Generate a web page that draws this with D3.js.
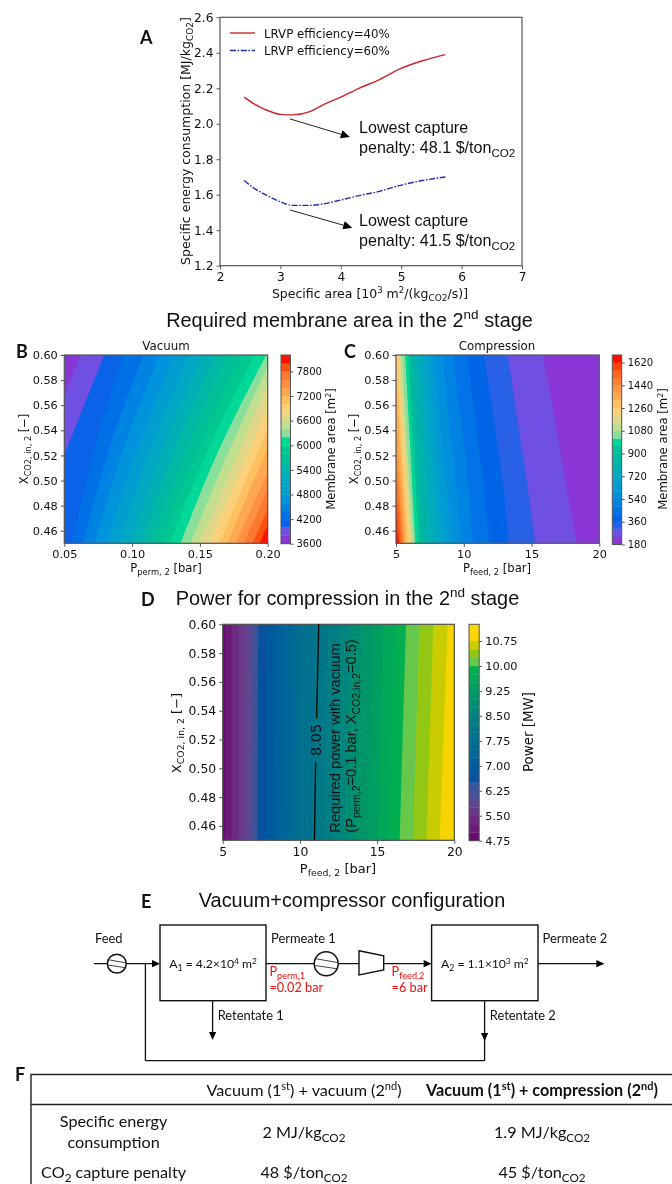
<!DOCTYPE html>
<html><head><meta charset="utf-8">
<script src="https://cdn.jsdelivr.net/npm/d3@7/dist/d3.min.js"></script>
<style>
html,body{margin:0;padding:0;background:#fff}
svg{display:block;filter:blur(0.4px)}
text{fill:#111}
</style></head><body><svg id="c" width="672" height="1184"></svg>
<script>
// ---------- Panel A ----------
const aXTicks=[2,3,4,5,6,7];
const aYTicks=[1.2,1.4,1.6,1.8,2.0,2.2,2.4,2.6];
const areaX=[2.4,2.55,2.75,3.0,3.2,3.5,3.7,4.0,4.3,4.65,4.95,5.35,5.73];
const energy40=[2.15,2.115,2.08,2.053,2.05,2.07,2.105,2.15,2.2,2.25,2.305,2.355,2.39];
const energy60=[1.68,1.64,1.6,1.56,1.54,1.54,1.548,1.57,1.595,1.62,1.65,1.68,1.7];
const aArrows=[[3.16,2.027,4.15,1.926],[3.16,1.514,4.19,1.414]];
// ---------- Panel B ----------
const xFracTicks=[0.46,0.48,0.50,0.52,0.54,0.56,0.58,0.60];
const bXTicks=[0.05,0.10,0.15,0.20];
const bRows=[0.45,0.525,0.6];
const bLevels=[3600,3800,4000,4200,4400,4600,4800,5000,5200,5400,5600,5800,6000,6200,6400,6600,6800,7000,7200,7400,7600,7800,8000];
const bTicks=[3600,4200,4800,5400,6000,6600,7200,7800];
const bColors=["#8a35d6","#7050e2","#0a62e8","#0070e6","#0084e4","#0094dc","#009fd0","#00a8c4","#00b0b4","#00b8a4","#00c098","#00c890","#00d898","#8ae09a","#c0e090","#e0d888","#fad078","#ffc060","#ffa850","#ff9040","#ff7830","#ff5010","#ff1000"];
const bBounds=[[.0100,.0345,.0620],[.0247,.0517,.0795],[.0559,.0721,.0935],[.0640,.0831,.1082],[.0726,.0935,.1205],[.0817,.1038,.1315],[.0905,.1136,.1426],[.0989,.1224,.1519],[.1070,.1315,.1610],[.1143,.1401,.1696],[.1212,.1487,.1806],[.1278,.1561,.1904],[.1357,.1642,.1990],[.1430,.1720,.2039],[.1499,.1794,.2088],[.1573,.1867,.2167],[.1642,.1936,.2231],[.1703,.1995,.2309],[.1764,.2076,.2383],[.1823,.2135,.2457],[.1887,.2201,.2530],[.1941,.2255,.2579]];
// ---------- Panel C ----------
const cXTicks=[5,10,15,20];
const cRows=[0.6,0.5625,0.525,0.4875,0.45];
const cLevels=[180,240,300,360,420,480,540,600,660,720,780,840,900,960,1020,1080,1140,1200,1260,1320,1380,1440,1500,1560,1620];
const cTicks=[180,360,540,720,900,1080,1260,1440,1620];
const cColors=["#8a35d6","#7050e2","#2860e6","#0064e6","#0074e6","#0084e4","#0090dc","#009ad4","#00a4c8","#00acbc","#00b2ac","#00b8a0","#00c094","#00d698","#8ae09a","#bce090","#e0d888","#fad078","#ffc060","#ffac50","#ff9840","#ff8030","#ff6418","#ff4008","#ff0c00"];
const cBounds=[[15.81,16.50,17.11,17.70,18.32],[13.26,13.76,14.30,14.82,15.26],[11.46,12.03,12.52,13.02,13.29],[10.23,10.67,11.12,11.54,11.86],[9.24,9.56,10.06,10.38,10.67],[8.45,8.75,9.14,9.51,9.81],[7.84,8.13,8.45,8.82,9.19],[7.42,7.66,7.96,8.26,8.58],[6.97,7.22,7.52,7.81,8.08],[6.60,6.85,7.10,7.34,7.59],[6.28,6.48,6.68,6.90,7.10],[6.04,6.23,6.43,6.65,6.85],[5.89,6.06,6.28,6.48,6.68],[5.67,5.86,6.06,6.23,6.43],[5.44,5.64,5.84,6.06,6.28],[5.32,5.52,5.72,5.94,6.16],[5.20,5.39,5.59,5.81,6.04],[5.02,5.25,5.44,5.67,5.89],[4.85,5.10,5.32,5.54,5.74],[4.70,4.93,5.15,5.42,5.64],[4.51,4.75,5.00,5.27,5.54],[4.31,4.58,4.83,5.15,5.42],[4.14,4.38,4.65,4.98,5.30],[3.89,4.14,4.43,4.78,5.20]];
// ---------- Panel D ----------
const dRows=[0.45,0.6];
const dLevels=[4.75,5,5.25,5.5,5.75,6,6.25,6.5,6.75,7,7.25,7.5,7.75,8,8.25,8.5,8.75,9,9.25,9.5,9.75,10,10.25,10.5,10.75,11];
const dTicks=[4.75,5.5,6.25,7,7.75,8.5,9.25,10,10.75];
const dColors=["#660a70","#6a1a78","#6d2a80","#6a3a88","#5f4690","#4a5098","#3a559c","#0a509e","#00589e","#00609c","#006698","#006c94","#00728e","#007888","#007e84","#00867c","#008e72","#009668","#009e60","#00a858","#00b050","#66c84a","#92c814","#c8cc00","#f5d400","#ffd800"];
const dBounds=[[5.15,5.15],[5.58,5.58],[6.01,6.01],[6.42,6.45],[6.81,6.83],[7.05,7.07],[7.22,7.31],[7.74,7.81],[8.28,8.37],[8.82,8.93],[9.36,9.49],[9.90,10.05],[10.76,11.04],[11.50,11.80],[12.21,12.53],[12.92,13.27],[13.63,13.96],[14.35,14.65],[15.06,15.38],[15.75,16.12],[16.46,16.87],[17.32,17.73],[18.19,18.64],[19.05,19.57],[20.15,20.58]];
const dLine1=[[10.94,0.45],[11.02,0.5046]];
const dLine2=[[11.08,0.5347],[11.22,0.6]];

const svg=d3.select("#c");
const SANS="'Liberation Sans',Arial,sans-serif", DJ="'DejaVu Sans',sans-serif", LATO="Lato,sans-serif";
const AX="#555";

function rich(g,x,y,parts,o={}){
  const t=g.append("text").attr("x",x).attr("y",y).attr("font-family",o.font||SANS).attr("font-size",o.size||12)
    .attr("text-anchor",o.anchor||"start").attr("font-weight",o.weight||null);
  if(o.rotate) t.attr("transform",`rotate(${o.rotate} ${x} ${y})`);
  if(o.fill) t.style("fill",o.fill);
  const sz=o.size||12; let back=0;
  parts.forEach(p=>{
    const [s,k]=Array.isArray(p)?p:[p,null];
    const ts=t.append("tspan").text(s);
    let dy=back; back=0;
    if(k==="sub"){ts.attr("font-size",sz*0.72);dy+=sz*0.24;back=-sz*0.24;}
    if(k==="sup"){ts.attr("font-size",sz*0.68);dy-=sz*0.38;back=sz*0.38;}
    if(dy) ts.attr("dy",dy);
  });
  return t;
}
function axes(g,x,y,xt,yt,xf,yf,fs){
  g.append("g").attr("transform",`translate(0,${y.range()[0]})`)
   .call(d3.axisBottom(x).tickValues(xt).tickFormat(d3.format(xf)).tickSize(3.5).tickPadding(3));
  g.append("g").attr("transform",`translate(${x.range()[0]},0)`)
   .call(d3.axisLeft(y).tickValues(yt).tickFormat(d3.format(yf)).tickSize(3.5).tickPadding(3));
  g.selectAll(".tick text").attr("font-family",DJ).attr("font-size",fs).style("fill","#111");
  g.selectAll(".tick line").attr("stroke",AX).attr("stroke-width",1);
  g.selectAll(".domain").remove();
}
function frame(g,x,y){
  g.append("rect").attr("x",x.range()[0]).attr("y",y.range()[1])
   .attr("width",x.range()[1]-x.range()[0]).attr("height",y.range()[0]-y.range()[1])
   .attr("fill","none").attr("stroke",AX).attr("stroke-width",1.2);
}
let clipN=0;
function bands(g,x,y,levels,colors,bounds,rows,curve,toLeft){
  const id="clip"+(clipN++);
  svg.append("defs").append("clipPath").attr("id",id).append("rect")
    .attr("x",x.range()[0]).attr("y",y.range()[1]).attr("width",x.range()[1]-x.range()[0]).attr("height",y.range()[0]-y.range()[1]);
  const p=g.append("g").attr("clip-path",`url(#${id})`);
  p.append("rect").attr("x",x.range()[0]).attr("y",y.range()[1]).attr("width",x.range()[1]-x.range()[0]).attr("height",y.range()[0]-y.range()[1]).attr("fill",colors[0]);
  const edge=toLeft?x.range()[0]-40:x.range()[1]+40;
  const area=d3.area().curve(curve).y(d=>y(d.r)).x0(d=>x(d.v)).x1(edge);
  bounds.forEach((b,i)=>{
    p.append("path").attr("d",area(b.map((v,j)=>({v,r:rows[j]})))).attr("fill",colors[i+1]);
  });
}
function colorbar(g,left,w,top,bottom,levels,colors,step,vmax,ticks,fmt,fs){
  const s=d3.scaleLinear().domain([levels[0],vmax]).range([bottom,top]);
  g.selectAll(null).data(levels).enter().append("rect")
    .attr("x",left).attr("width",w)
    .attr("y",d=>s(d+step)).attr("height",d=>s(d)-s(d+step)+0.3)
    .attr("fill",(d,i)=>colors[i]);
  g.append("rect").attr("x",left).attr("y",top).attr("width",w).attr("height",bottom-top).attr("fill","none").attr("stroke",AX).attr("stroke-width",1);
  const a=g.append("g").attr("transform",`translate(${left+w},0)`)
    .call(d3.axisRight(s).tickValues(ticks).tickFormat(d3.format(fmt)).tickSize(3).tickPadding(3));
  a.select(".domain").remove();
  a.selectAll(".tick text").attr("font-family",DJ).attr("font-size",fs).style("fill","#111");
  a.selectAll(".tick line").attr("stroke",AX);
}

// ===== A =====
{
  const g=svg.append("g");
  const x=d3.scaleLinear().domain([2,7]).range([220,522]);
  const y=d3.scaleLinear().domain([1.2,2.6]).range([265.7,17.3]);
  frame(g,x,y);
  axes(g,x,y,aXTicks,aYTicks,"d",".1f",12.2);
  const line=d3.line().curve(d3.curveMonotoneX).x(d=>x(d[0])).y(d=>y(d[1]));
  g.append("path").attr("d",line(areaX.map((a,i)=>[a,energy40[i]]))).attr("fill","none").attr("stroke","#c8262c").attr("stroke-width",1.4);
  g.append("path").attr("d",line(areaX.map((a,i)=>[a,energy60[i]]))).attr("fill","none").attr("stroke","#1f2fb0").attr("stroke-width",1.4).attr("stroke-dasharray","6 1.6 1.6 1.6");
  g.append("line").attr("x1",230).attr("x2",255).attr("y1",33).attr("y2",33).attr("stroke","#c8262c").attr("stroke-width",1.4);
  g.append("line").attr("x1",230).attr("x2",255).attr("y1",50.5).attr("y2",50.5).attr("stroke","#1f2fb0").attr("stroke-width",1.4).attr("stroke-dasharray","6 1.6 1.6 1.6");
  rich(g,264,37.5,["LRVP efficiency=40%"],{font:DJ,size:11.8});
  rich(g,264,55,["LRVP efficiency=60%"],{font:DJ,size:11.8});
  aArrows.forEach(a=>{
    const [x0,y0,x1,y1]=[x(a[0]),y(a[1]),x(a[2]),y(a[3])];
    const ang=Math.atan2(y1-y0,x1-x0);
    g.append("line").attr("x1",x0).attr("y1",y0).attr("x2",x1-6*Math.cos(ang)).attr("y2",y1-6*Math.sin(ang)).attr("stroke","#222").attr("stroke-width",1);
    g.append("path").attr("d","M0,0L-9,-4.2L-9,4.2Z").attr("fill","#000").attr("transform",`translate(${x1},${y1}) rotate(${ang*180/Math.PI})`);
  });
  rich(g,359,133,["Lowest capture"],{size:16.1});
  rich(g,359,153,["penalty: 48.1 $/ton",["CO2","sub"]],{size:16.1});
  rich(g,359,226,["Lowest capture"],{size:16.1});
  rich(g,359,246,["penalty: 41.5 $/ton",["CO2","sub"]],{size:16.1});
  rich(g,370,298,["Specific area [10",["3","sup"]," m",["2","sup"],"/(kg",["CO2","sub"],"/s)]"],{font:DJ,size:12.5,anchor:"middle"});
  rich(g,190,141,["Specific energy consumption [MJ/kg",["CO2","sub"],"]"],{font:DJ,size:12.5,anchor:"middle",rotate:-90});
  rich(g,140,44,["A"],{font:LATO,size:18,weight:700});
}
// ===== B =====
{
  const g=svg.append("g");
  const x=d3.scaleLinear().domain([0.05,0.2]).range([64.3,267.7]);
  const y=d3.scaleLinear().domain([0.45,0.6]).range([543.3,355]);
  bands(g,x,y,bLevels,bColors,bBounds,bRows,d3.curveNatural,false);
  frame(g,x,y);
  axes(g,x,y,bXTicks,xFracTicks,".2f",".2f",11.3);
  colorbar(g,281,9.5,355,543.7,bLevels,bColors,200,8200,bTicks,"d",10);
  rich(g,166,350,["Vacuum"],{font:DJ,size:11.8,anchor:"middle"});
  rich(g,166,572,["P",["perm, 2","sub"]," [bar]"],{font:DJ,size:11.6,anchor:"middle"});
  rich(g,28,449,["X",["CO2, in, 2","sub"]," [−]"],{font:DJ,size:11.4,anchor:"middle",rotate:-90});
  rich(g,335,449,["Membrane area [m",["2","sup"],"]"],{font:DJ,size:11.7,anchor:"middle",rotate:-90});
  rich(g,16,358,["B"],{font:LATO,size:18,weight:700});
}
// ===== C =====
{
  const g=svg.append("g");
  const x=d3.scaleLinear().domain([5,20]).range([396,599.3]);
  const y=d3.scaleLinear().domain([0.45,0.6]).range([543.3,355]);
  bands(g,x,y,cLevels,cColors,cBounds,cRows,d3.curveLinear,true);
  frame(g,x,y);
  axes(g,x,y,cXTicks,xFracTicks,"d",".2f",11.3);
  colorbar(g,612.3,9.4,355,544.4,cLevels,cColors,60,1680,cTicks,"d",10);
  rich(g,497,350,["Compression"],{font:DJ,size:11.8,anchor:"middle"});
  rich(g,497,572,["P",["feed, 2","sub"]," [bar]"],{font:DJ,size:11.6,anchor:"middle"});
  rich(g,358,449,["X",["CO2, in, 2","sub"]," [−]"],{font:DJ,size:11.4,anchor:"middle",rotate:-90});
  rich(g,667,449,["Membrane area [m",["2","sup"],"]"],{font:DJ,size:11.7,anchor:"middle",rotate:-90});
  rich(g,344,358,["C"],{font:LATO,size:18,weight:700});
}
// ===== D =====
{
  const g=svg.append("g");
  const x=d3.scaleLinear().domain([5,20]).range([222.7,454.3]);
  const y=d3.scaleLinear().domain([0.45,0.6]).range([840.3,624.3]);
  bands(g,x,y,dLevels,dColors,dBounds,dRows,d3.curveLinear,false);
  frame(g,x,y);
  axes(g,x,y,cXTicks,xFracTicks,"d",".2f",12.4);
  colorbar(g,469,10.2,624.3,840.7,dLevels,dColors,0.25,11.25,dTicks,".2f",11.3);
  const ln=d3.line().x(d=>x(d[0])).y(d=>y(d[1]));
  g.append("path").attr("d",ln(dLine1)).attr("fill","none").attr("stroke","#000").attr("stroke-width",1.3);
  g.append("path").attr("d",ln(dLine2)).attr("fill","none").attr("stroke","#000").attr("stroke-width",1.3);
  rich(g,x(11.05)+4.5,y(0.5197),["8.05"],{font:DJ,size:14.4,anchor:"middle",rotate:-90});
  rich(g,340,832.7,["Required power with vacuum"],{size:14.7,rotate:-90});
  rich(g,356.5,832.7,["(P",["perm,2","sub"],"=0.1 bar, X",["CO2,in,2","sub"],"=0.5)"],{size:14.6,rotate:-90});
  rich(g,338,873,["P",["feed, 2","sub"]," [bar]"],{font:DJ,size:13,anchor:"middle"});
  rich(g,181,733,["X",["CO2, in, 2","sub"]," [−]"],{font:DJ,size:13,anchor:"middle",rotate:-90});
  rich(g,533,732,["Power [MW]"],{font:DJ,size:13.4,anchor:"middle",rotate:-90});
  rich(g,141,606,["D"],{font:LATO,size:18,weight:700});
}
// ===== Titles =====
rich(svg,349.5,327,["Required membrane area in the 2",["nd","sup"]," stage"],{size:19.9,anchor:"middle"});
rich(svg,347.5,605,["Power for compression in the 2",["nd","sup"]," stage"],{size:19.9,anchor:"middle"});
rich(svg,352,907,["Vacuum+compressor configuration"],{size:19.9,anchor:"middle"});
// ===== E =====
{
  const g=svg.append("g");
  const L=(a,b,c,d)=>g.append("line").attr("x1",a).attr("y1",b).attr("x2",c).attr("y2",d).attr("stroke","#111").attr("stroke-width",1.3);
  const head=(x,y,rot,s=8)=>g.append("path").attr("d",`M0,0L${-s},${-s*0.45}L${-s},${s*0.45}Z`).attr("fill","#000").attr("transform",`translate(${x},${y}) rotate(${rot})`);
  const box=(a,b,c,d)=>g.append("rect").attr("x",a).attr("y",b).attr("width",c-a).attr("height",d-b).attr("fill","#fff").attr("stroke","#111").attr("stroke-width",1.4);
  const ym=963.7;
  L(94,ym,153,ym); head(160,ym,0);
  L(266,ym,424,ym); head(431.6,ym,0);
  L(538,ym,597,ym); head(604.4,ym,0);
  L(145.4,ym,145.4,1060.7); L(145.4,1060.7,484.6,1060.7); L(484.6,1000.7,484.6,1060.7);
  head(484.6,1041,90); L(212.6,1000.7,212.6,1033); head(212.6,1040,90);
  box(160,925,266,1000.7); box(431.6,925,538,1000.7);
  const pump=(cx,r)=>{
    g.append("circle").attr("cx",cx).attr("cy",ym).attr("r",r).attr("fill","#fff").attr("stroke","#111").attr("stroke-width",1.5);
    const l=(a,b,c,d)=>g.append("line").attr("x1",a).attr("y1",b).attr("x2",c).attr("y2",d).attr("stroke","#111").attr("stroke-width",0.8);
    l(cx-r*0.9,ym-r*0.42,cx+r*0.92,ym-r*0.1); l(cx-r*0.92,ym+r*0.15,cx+r*0.9,ym+r*0.42);
  };
  pump(116.8,9.4); pump(326.2,12);
  g.append("path").attr("d",`M359,950.7L383.7,955.7L383.7,970L359,975Z`).attr("fill","#fff").attr("stroke","#111").attr("stroke-width",1.4);
  const f={font:LATO,size:12.9};
  rich(g,95,942.7,["Feed"],f);
  rich(g,271,942.7,["Permeate 1"],f);
  rich(g,542.5,942.7,["Permeate 2"],f);
  rich(g,217.7,1020,["Retentate 1"],f);
  rich(g,489.8,1020,["Retentate 2"],f);
  rich(g,213,968.3,["A",["1","sub"]," = 4.2×10",["4","sup"]," m",["2","sup"]],{font:LATO,size:12.2,anchor:"middle"});
  rich(g,484.8,968.3,["A",["2","sub"]," = 1.1×10",["3","sup"]," m",["2","sup"]],{font:LATO,size:12.2,anchor:"middle"});
  const r={font:LATO,size:12.7,fill:"#f01010"};
  rich(g,269.4,975.5,["P",["perm,1","sub"]],r);
  rich(g,269.4,992,["=0.02 bar"],r);
  rich(g,391.6,975.5,["P",["feed,2","sub"]],r);
  rich(g,391.6,992,["=6 bar"],r);
  rich(g,141,908,["E"],{font:LATO,size:18,weight:700});
}
// ===== F =====
{
  const g=svg.append("g");
  g.append("path").attr("d","M31,1184V1074.5H672M31,1104.5H672").attr("fill","none").attr("stroke","#222").attr("stroke-width",1.4);
  const f={font:LATO,size:16.2,anchor:"middle"};
  rich(g,304,1096,["Vacuum (1",["st","sup"],") + vacuum (2",["nd","sup"],")"],f);
  rich(g,542,1096,["Vacuum (1",["st","sup"],") + compression (2",["nd","sup"],")"],{...f,weight:700});
  rich(g,113.6,1127,["Specific energy"],f);
  rich(g,113.6,1148,["consumption"],f);
  rich(g,304,1138,["2 MJ/kg",["CO2","sub"]],f);
  rich(g,542,1138,["1.9 MJ/kg",["CO2","sub"]],f);
  rich(g,113.6,1178,["CO",["2","sub"]," capture penalty"],f);
  rich(g,304,1178,["48 $/ton",["CO2","sub"]],f);
  rich(g,542,1178,["45 $/ton",["CO2","sub"]],f);
  rich(g,15,1081,["F"],{font:LATO,size:18,weight:700});
}
</script></body></html>
